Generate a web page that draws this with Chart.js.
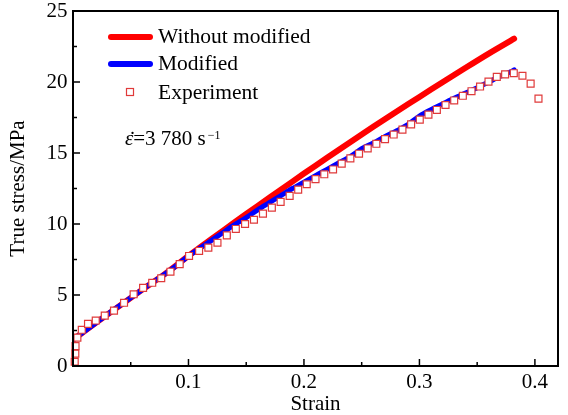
<!DOCTYPE html>
<html><head><meta charset="utf-8">
<script src="https://cdn.jsdelivr.net/npm/chart.js@4.4.1/dist/chart.umd.min.js"></script>
<style>html,body{margin:0;padding:0;background:#fff;}#wrap{width:568px;height:415px;}</style>
</head><body><div id="wrap"><canvas id="c" width="568" height="415"></canvas></div>
<script>
// ---- data ----
const seriesNames = ['Without modified', 'Modified', 'Experiment'];
const rateSymbol = 'ε';
const rateText = '=3 780 s';
const rateExp = '−1';
const xTitle = 'Strain';
const yTitle = 'True stress/MPa';
const xTickValues = [0, 0.1, 0.2, 0.3, 0.4];
const yTickValues = [0, 5, 10, 15, 20, 25];

const unmodStrain = [0, 0.02, 0.04, 0.06, 0.08, 0.10, 0.12, 0.14, 0.16, 0.18, 0.20, 0.22, 0.24, 0.26, 0.28, 0.30, 0.32, 0.34, 0.36, 0.382];
const unmodStress = [1.85, 3.05, 4.22, 5.38, 6.5, 7.75, 8.95, 10.12, 11.28, 12.42, 13.55, 14.66, 15.76, 16.84, 17.9, 18.95, 19.98, 21.0, 22.0, 23.05];

const modStrain = [0, 0.01, 0.02, 0.03, 0.04, 0.05, 0.06, 0.07, 0.08, 0.09, 0.10, 0.11, 0.12, 0.13, 0.14, 0.15, 0.16, 0.17, 0.18, 0.19, 0.20, 0.21, 0.22, 0.23, 0.24, 0.25, 0.26, 0.27, 0.28, 0.29, 0.30, 0.31, 0.32, 0.33, 0.34, 0.35, 0.36, 0.37, 0.38, 0.382];
const modStress = [1.85, 2.45, 3.05, 3.65, 4.22, 4.8, 5.38, 5.95, 6.5, 7.1, 7.75, 8.3, 8.85, 9.4, 9.95, 10.45, 11.0, 11.5, 12.0, 12.5, 12.95, 13.4, 13.85, 14.3, 14.75, 15.3, 15.7, 16.15, 16.55, 17.0, 17.6, 18.05, 18.45, 18.85, 19.22, 19.6, 20.0, 20.4, 20.75, 20.85];

const expStrain = [0.0015, 0.002, 0.0022, 0.0038, 0.0076, 0.013, 0.0197, 0.0275, 0.0355, 0.0442, 0.0525, 0.0607, 0.0686, 0.0764, 0.0844, 0.0924, 0.1005, 0.1092, 0.1172, 0.1251, 0.1332, 0.141, 0.149, 0.1567, 0.1645, 0.1722, 0.1798, 0.1876, 0.195, 0.2024, 0.21, 0.2176, 0.2252, 0.2327, 0.2402, 0.2477, 0.2552, 0.2627, 0.2702, 0.2777, 0.2853, 0.2928, 0.3003, 0.3078, 0.3151, 0.3226, 0.3301, 0.3376, 0.3451, 0.3525, 0.3598, 0.367, 0.3742, 0.3817, 0.3892, 0.3963, 0.4031];
const expStress = [0.3, 0.87, 1.4, 2.0, 2.55, 2.97, 3.2, 3.55, 3.9, 4.45, 5.05, 5.5, 5.86, 6.18, 6.64, 7.17, 7.75, 8.1, 8.34, 8.68, 9.2, 9.65, 10.0, 10.3, 10.73, 11.15, 11.56, 11.98, 12.42, 12.8, 13.16, 13.5, 13.84, 14.25, 14.62, 14.95, 15.32, 15.65, 15.98, 16.3, 16.65, 17.02, 17.35, 17.7, 18.03, 18.38, 18.7, 19.03, 19.35, 19.68, 20.03, 20.36, 20.54, 20.62, 20.44, 19.89, 18.83];

const toXY = (xs, ys) => xs.map((x, i) => ({x: x, y: ys[i]}));
const FONT = '"Liberation Serif", "Times New Roman", serif';
const RED = '#ff0000', BLUE = '#0000ff', SQ = '#e03a3a';

const framePlugin = {
  id: 'frame',
  afterDatasetsDraw(chart) {
    const {ctx, chartArea: a, scales} = chart;
    ctx.save();
    ctx.strokeStyle = '#000';
    ctx.lineWidth = 2;
    ctx.strokeRect(a.left, a.top, a.right - a.left, a.bottom - a.top);
    ctx.lineWidth = 1.5;
    const xs = scales.x, ys = scales.y;
    const xv = xs.ticks.map(t => t.value), yv = ys.ticks.map(t => t.value);
    const drawX = (v, len) => { const p = xs.getPixelForValue(v); if (p <= a.left + 1 || p >= a.right - 1) return; ctx.beginPath(); ctx.moveTo(p, a.bottom); ctx.lineTo(p, a.bottom - len); ctx.stroke(); };
    const drawY = (v, len) => { const p = ys.getPixelForValue(v); if (p <= a.top + 1 || p >= a.bottom - 1) return; ctx.beginPath(); ctx.moveTo(a.left, p); ctx.lineTo(a.left + len, p); ctx.stroke(); };
    xv.forEach((v, i) => { drawX(v, 7); const m = i + 1 < xv.length ? (v + xv[i + 1]) / 2 : v + (v - xv[i - 1]) / 2; if (m < xs.max) drawX(m, 4); });
    yv.forEach((v, i) => { drawY(v, 7); if (i + 1 < yv.length) drawY((v + yv[i + 1]) / 2, 4); });
    ctx.restore();
  }
};

const legendPlugin = {
  id: 'customLegend',
  afterDraw(chart) {
    const ctx = chart.ctx;
    ctx.save();
    ctx.lineCap = 'round';
    ctx.lineWidth = 6;
    ctx.strokeStyle = RED;
    ctx.beginPath(); ctx.moveTo(111, 37); ctx.lineTo(150, 37); ctx.stroke();
    ctx.strokeStyle = BLUE;
    ctx.beginPath(); ctx.moveTo(111, 64); ctx.lineTo(150, 64); ctx.stroke();
    ctx.lineCap = 'butt';
    ctx.lineWidth = 1.2;
    ctx.fillStyle = '#fff';
    ctx.strokeStyle = SQ;
    ctx.fillRect(126.5, 88.5, 7, 7);
    ctx.strokeRect(126.5, 88.5, 7, 7);
    ctx.fillStyle = '#000';
    ctx.font = '21.5px ' + FONT;
    ctx.textBaseline = 'alphabetic';
    ctx.textAlign = 'left';
    ctx.fillText(seriesNames[0], 158, 43);
    ctx.fillText(seriesNames[1], 158, 70);
    ctx.fillText(seriesNames[2], 158, 98.5);
    // strain-rate annotation
    ctx.font = 'italic 21px ' + FONT;
    ctx.fillText(rateSymbol, 125, 145);
    const w0 = ctx.measureText(rateSymbol).width;
    ctx.font = '21px ' + FONT;
    ctx.textAlign = 'center';
    ctx.fillText('˙', 132.5, 146);
    ctx.textAlign = 'left';
    ctx.fillText(rateText, 125 + w0, 145);
    const w1 = ctx.measureText(rateText).width;
    ctx.font = '12px ' + FONT;
    ctx.fillText(rateExp, 125 + w0 + w1 + 2, 138.5);
    ctx.restore();
  }
};

new Chart(document.getElementById('c'), {
  type: 'scatter',
  data: {
    datasets: [
      { label: seriesNames[2], data: toXY(expStrain, expStress), showLine: false,
        pointStyle: 'rect', pointRadius: 4.9, pointBorderWidth: 1.2,
        pointBorderColor: SQ, pointBackgroundColor: '#ffffff', clip: 6 },
      { label: seriesNames[1], data: toXY(modStrain, modStress), showLine: true,
        borderColor: BLUE, borderWidth: 5, pointRadius: 0, tension: 0.3,
        borderCapStyle: 'round', fill: false },
      { label: seriesNames[0], data: toXY(unmodStrain, unmodStress), showLine: true,
        borderColor: RED, borderWidth: 6, pointRadius: 0, tension: 0.3,
        borderCapStyle: 'round', fill: false }
    ]
  },
  options: {
    responsive: false,
    animation: false,
    devicePixelRatio: 1,
    layout: { padding: { top: 11, right: 10, left: 0, bottom: 0 } },
    plugins: { legend: { display: false }, tooltip: { enabled: false } },
    scales: {
      x: {
        type: 'linear', min: 0, max: 0.42,
        afterBuildTicks: s => { s.ticks = xTickValues.map(v => ({value: v})); },
        afterFit: s => { s.height = 49; s.paddingLeft = 0; s.paddingRight = 0; },
        grid: { display: false, drawTicks: false, tickLength: 0 }, border: { display: false },
        ticks: { padding: 6, color: '#000', maxRotation: 0, autoSkip: false,
          font: { family: FONT, size: 21, lineHeight: 1 },
          callback: v => v === 0 ? '' : String(Math.round(v * 10) / 10) },
        title: { display: true, text: xTitle, color: '#000', padding: { top: 0, bottom: 0 },
          font: { family: FONT, size: 21, lineHeight: 1 } }
      },
      y: {
        type: 'linear', min: 0, max: 25,
        afterBuildTicks: s => { s.ticks = yTickValues.map(v => ({value: v})); },
        afterFit: s => { s.width = 73; s.paddingTop = 0; s.paddingBottom = 0; },
        grid: { display: false, drawTicks: false, tickLength: 0 }, border: { display: false },
        ticks: { padding: 5.5, color: '#000', autoSkip: false,
          font: { family: FONT, size: 21, lineHeight: 1 },
          callback: v => String(v) },
        title: { display: true, text: yTitle, color: '#000', padding: { top: 6, bottom: 0 },
          font: { family: FONT, size: 21, lineHeight: 1.2 } }
      }
    }
  },
  plugins: [framePlugin, legendPlugin]
});
</script></body></html>
